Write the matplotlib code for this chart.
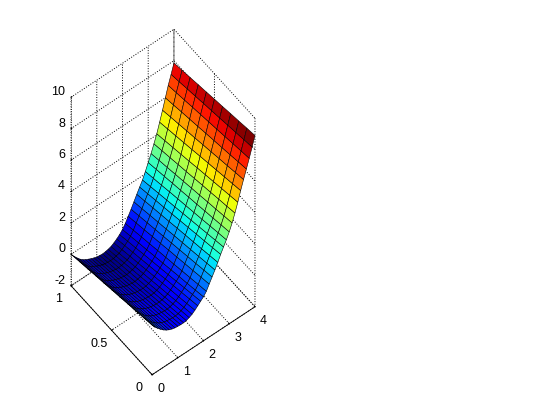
import numpy as np
import matplotlib
matplotlib.use('Agg')
import matplotlib.pyplot as plt
from mpl_toolkits.mplot3d import proj3d

plt.rcParams['font.family'] = ['Liberation Sans', 'DejaVu Sans']

# Data: one row per x, one column per y
x_vals = [0, 0.111, 0.222, 0.333, 0.444, 0.556, 0.667, 0.778, 0.889, 1, 1.111, 1.222, 1.333, 1.444, 1.556, 1.667,
          1.778, 1.889, 2, 2.111, 2.222, 2.333, 2.444, 2.556, 2.667, 2.778, 2.889, 3, 3.111, 3.222, 3.333, 3.444,
          3.556, 3.667, 3.778, 3.889, 4]
y_vals = [0, 0.1, 0.2, 0.3, 0.4, 0.5, 0.6, 0.7, 0.8, 0.9, 1]
z_vals = [
    [1.15, 1.04, 0.92, 0.81, 0.69, 0.58, 0.46, 0.35, 0.23, 0.12, 0.00],
    [0.91, 0.80, 0.68, 0.57, 0.45, 0.34, 0.22, 0.11, -0.01, -0.13, -0.24],
    [0.71, 0.59, 0.48, 0.36, 0.24, 0.13, 0.01, -0.11, -0.23, -0.34, -0.46],
    [0.53, 0.41, 0.29, 0.17, 0.05, -0.07, -0.18, -0.30, -0.42, -0.54, -0.66],
    [0.37, 0.25, 0.13, 0.01, -0.11, -0.23, -0.34, -0.46, -0.58, -0.70, -0.82],
    [0.24, 0.12, 0.00, -0.11, -0.23, -0.35, -0.47, -0.59, -0.70, -0.82, -0.94],
    [0.14, 0.02, -0.09, -0.21, -0.33, -0.45, -0.56, -0.68, -0.80, -0.91, -1.03],
    [0.07, -0.05, -0.17, -0.29, -0.41, -0.53, -0.64, -0.76, -0.88, -1.00, -1.12],
    [0.02, -0.10, -0.22, -0.34, -0.46, -0.59, -0.71, -0.83, -0.95, -1.07, -1.19],
    [0.00, -0.13, -0.25, -0.38, -0.50, -0.63, -0.75, -0.88, -1.00, -1.13, -1.25],
    [-0.02, -0.15, -0.27, -0.40, -0.52, -0.65, -0.78, -0.90, -1.03, -1.15, -1.28],
    [-0.02, -0.15, -0.28, -0.40, -0.53, -0.66, -0.79, -0.92, -1.04, -1.17, -1.30],
    [0.01, -0.12, -0.25, -0.38, -0.51, -0.64, -0.76, -0.89, -1.02, -1.15, -1.28],
    [0.08, -0.05, -0.18, -0.32, -0.45, -0.58, -0.71, -0.84, -0.98, -1.11, -1.24],
    [0.17, 0.04, -0.10, -0.24, -0.37, -0.51, -0.64, -0.78, -0.91, -1.05, -1.18],
    [0.31, 0.17, 0.03, -0.10, -0.24, -0.38, -0.52, -0.66, -0.79, -0.93, -1.07],
    [0.47, 0.33, 0.19, 0.05, -0.09, -0.24, -0.38, -0.52, -0.66, -0.80, -0.94],
    [0.64, 0.50, 0.36, 0.21, 0.07, -0.07, -0.21, -0.35, -0.50, -0.64, -0.78],
    [0.80, 0.66, 0.52, 0.39, 0.25, 0.11, -0.03, -0.17, -0.30, -0.44, -0.58],
    [1.03, 0.90, 0.76, 0.63, 0.49, 0.36, 0.23, 0.09, -0.04, -0.18, -0.31],
    [1.37, 1.24, 1.10, 0.97, 0.83, 0.70, 0.56, 0.43, 0.29, 0.16, 0.02],
    [1.70, 1.57, 1.43, 1.30, 1.16, 1.03, 0.89, 0.76, 0.62, 0.49, 0.35],
    [2.03, 1.90, 1.76, 1.63, 1.50, 1.37, 1.23, 1.10, 0.97, 0.83, 0.70],
    [2.39, 2.26, 2.12, 1.99, 1.86, 1.73, 1.59, 1.46, 1.33, 1.19, 1.06],
    [2.78, 2.64, 2.50, 2.37, 2.23, 2.09, 1.95, 1.81, 1.68, 1.54, 1.40],
    [3.13, 2.99, 2.85, 2.71, 2.57, 2.43, 2.29, 2.15, 2.01, 1.87, 1.73],
    [3.47, 3.34, 3.21, 3.07, 2.94, 2.81, 2.68, 2.55, 2.41, 2.28, 2.15],
    [3.85, 3.73, 3.60, 3.48, 3.35, 3.23, 3.10, 2.98, 2.85, 2.73, 2.60],
    [4.30, 4.18, 4.05, 3.93, 3.80, 3.68, 3.55, 3.43, 3.30, 3.18, 3.05],
    [4.81, 4.68, 4.56, 4.43, 4.31, 4.18, 4.05, 3.93, 3.80, 3.68, 3.55],
    [5.38, 5.25, 5.12, 4.99, 4.86, 4.73, 4.59, 4.46, 4.33, 4.20, 4.07],
    [6.00, 5.87, 5.74, 5.61, 5.48, 5.35, 5.21, 5.08, 4.95, 4.82, 4.69],
    [6.58, 6.46, 6.33, 6.21, 6.08, 5.96, 5.83, 5.71, 5.58, 5.46, 5.33],
    [7.13, 7.02, 6.90, 6.79, 6.68, 6.57, 6.45, 6.34, 6.23, 6.11, 6.00],
    [7.69, 7.59, 7.49, 7.38, 7.28, 7.18, 7.08, 6.98, 6.87, 6.77, 6.67],
    [8.29, 8.19, 8.08, 7.98, 7.87, 7.77, 7.67, 7.56, 7.46, 7.35, 7.25],
    [8.90, 8.80, 8.69, 8.59, 8.48, 8.38, 8.27, 8.17, 8.06, 7.96, 7.85],
]
x_ticks = [0, 1, 2, 3, 4]
x_tick_labels = ['0', '1', '2', '3', '4']
y_ticks = [0, 0.5, 1]
y_tick_labels = ['0', '0.5', '1']
z_ticks = [-2, 0, 2, 4, 6, 8, 10]
z_tick_labels = ['-2', '0', '2', '4', '6', '8', '10']

X, Y = np.meshgrid(x_vals, y_vals, indexing='ij')
Z = np.array(z_vals)

fig = plt.figure(figsize=(5.6, 4.2), dpi=100)
ax = fig.add_axes([-38.8 / 560, 16.2 / 420, 393 / 560, 393 / 420], projection='3d')
ax.set_proj_type('ortho')
ax.view_init(elev=58.4, azim=-127.8)
ax.set_box_aspect((130.3, 132.3, 360))

ax.plot_surface(X, Y, Z, cmap='jet', rstride=1, cstride=1, shade=False,
                edgecolor='k', linewidth=0.4)

ax.set_xlim(0, 4, view_margin=0)
ax.set_ylim(0, 1, view_margin=0)
ax.set_zlim(-2, 10, view_margin=0)
ax.set_xticks(x_ticks)
ax.set_yticks(y_ticks)
ax.set_zticks(z_ticks)

for axis in (ax.xaxis, ax.yaxis, ax.zaxis):
    axis.pane.set_facecolor('white')
    axis.pane.set_edgecolor('none')
    axis.line.set_linewidth(0.6)
    axis._axinfo['grid'].update(color='k', linewidth=0.7, linestyle=':')
    axis._axinfo['tick'].update(inward_factor=0.0, outward_factor=0.1)
    axis.set_tick_params(label1On=False, label2On=False)
    axis.label.set_visible(False)
ax.zaxis.line.set_linestyle(':')


def tick_label(x, y, z, label, ha):
    # tick labels sit further from the box than mplot3d would put them
    px, py, _ = proj3d.proj_transform(x, y, z, ax.get_proj())
    ax.text2D(px, py, label, transform=ax.transData, fontsize=9, ha=ha, va='center')


for x, label in zip(x_ticks, x_tick_labels):
    tick_label(x - 0.10, -0.138, -2, label, 'center')
for y, label in zip(y_ticks, y_tick_labels):
    tick_label(-0.61, y - 0.035, -2, label, 'center')
for z, label in zip(z_ticks, z_tick_labels):
    tick_label(-0.146, 1.028, z + 0.32, label, 'right')

fig.savefig('out.png', dpi=100)
